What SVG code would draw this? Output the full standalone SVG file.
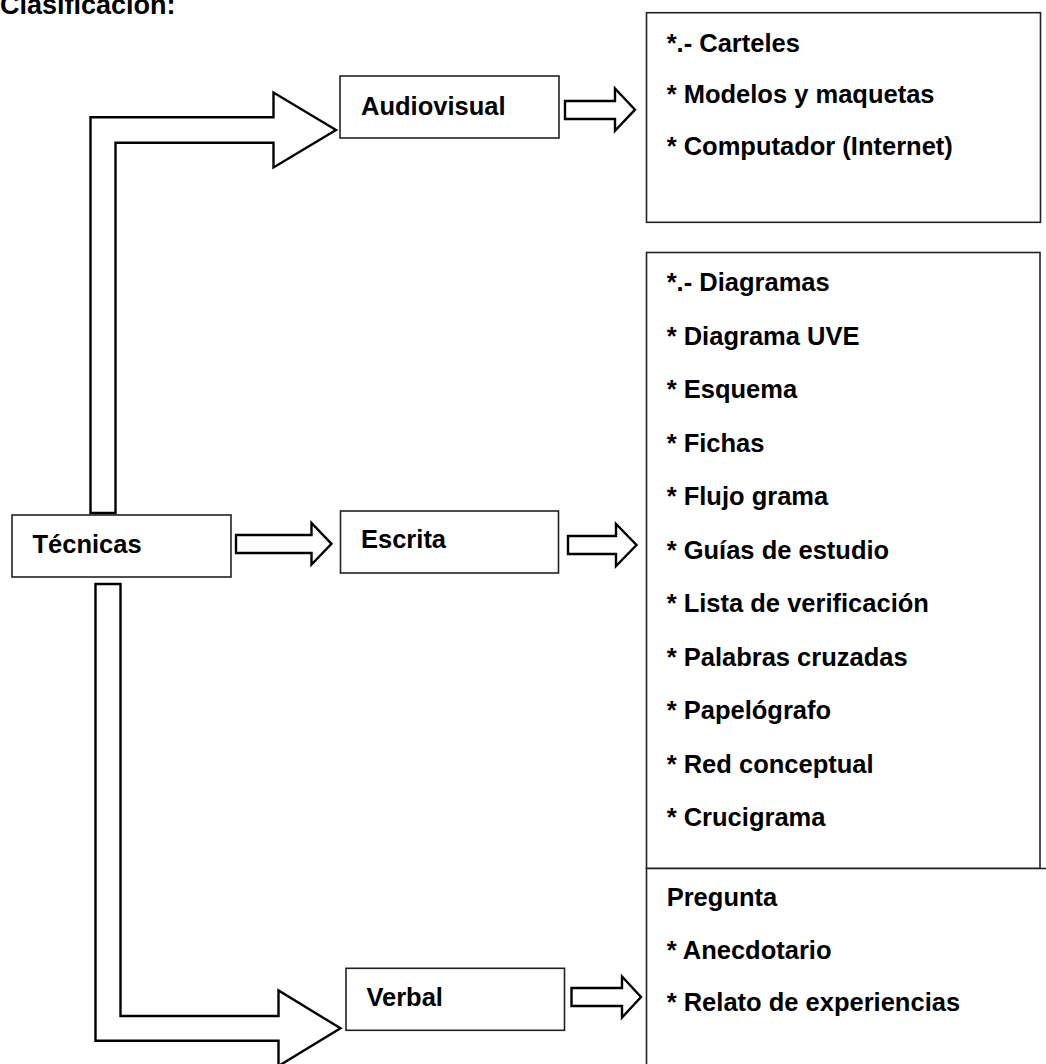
<svg xmlns="http://www.w3.org/2000/svg" width="1046" height="1064" viewBox="0 0 1046 1064">
  <style>
    .box { fill: #ffffff; stroke: #222222; stroke-width: 1.6; }
    .arrow { fill: #ffffff; stroke: #000000; stroke-width: 2.4; stroke-linejoin: miter; }
    .lbl { font-family: "Liberation Sans", Arial, sans-serif; font-weight: bold; font-size: 25.5px; fill: #000000; }
    .title { font-family: "Liberation Sans", Arial, sans-serif; font-weight: bold; font-size: 27px; fill: #000000; }
  </style>
  <rect x="0" y="0" width="1046" height="1064" fill="#ffffff"/>

  <text class="title" x="0" y="14">Clasificación:</text>

  <g id="connectors">
    <path class="arrow" d="M90.5,513 L90.5,117.3 L273.5,117.3 L273.5,92.5 L336,130 L273.5,167.5 L273.5,142.7 L115.5,142.7 L115.5,513 Z"/>
    <path class="arrow" d="M95.5,584 L120.5,584 L120.5,1016 L278.5,1016 L278.5,990.5 L340.5,1028.3 L278.5,1066 L278.5,1040.7 L95.5,1040.7 Z"/>
    <path class="arrow" d="M236,535 L311.5,535 L311.5,523 L331.5,543.8 L311.5,564.5 L311.5,553 L236,553 Z"/>
    <path class="arrow" d="M565,101 L615,101 L615,88.5 L635,109.7 L615,130.8 L615,119 L565,119 Z"/>
    <path class="arrow" d="M568,536 L616,536 L616,524 L636.5,545 L616,566 L616,554 L568,554 Z"/>
    <path class="arrow" d="M571.5,988 L622,988 L622,976.5 L641,997 L622,1017.5 L622,1006 L571.5,1006 Z"/>
  </g>

  <g id="node-tecnicas">
    <rect class="box" x="12" y="515" width="219" height="62"/>
    <text class="lbl" x="32.5" y="552.7">Técnicas</text>
  </g>

  <g id="node-audiovisual">
    <rect class="box" x="340" y="76" width="219" height="62"/>
    <text class="lbl" x="361" y="115">Audiovisual</text>
  </g>

  <g id="node-escrita">
    <rect class="box" x="340.5" y="511" width="218" height="62"/>
    <text class="lbl" x="361" y="548.3">Escrita</text>
  </g>

  <g id="node-verbal">
    <rect class="box" x="346" y="968.3" width="218.5" height="62"/>
    <text class="lbl" x="366.4" y="1006">Verbal</text>
  </g>

  <g id="list-audiovisual">
    <rect class="box" x="646.5" y="12.7" width="394" height="209.6"/>
    <text class="lbl" x="666.7" y="51.7">*.- Carteles</text>
    <text class="lbl" x="666.7" y="103.3">* Modelos y maquetas</text>
    <text class="lbl" x="666.7" y="155">* Computador (Internet)</text>
  </g>

  <g id="list-escrita">
    <rect class="box" x="646.5" y="252.5" width="393.5" height="616"/>
    <text class="lbl" x="666.7" y="291">*.- Diagramas</text>
    <text class="lbl" x="666.7" y="344.5">* Diagrama UVE</text>
    <text class="lbl" x="666.7" y="398">* Esquema</text>
    <text class="lbl" x="666.7" y="451.5">* Fichas</text>
    <text class="lbl" x="666.7" y="505">* Flujo grama</text>
    <text class="lbl" x="666.7" y="558.5">* Guías de estudio</text>
    <text class="lbl" x="666.7" y="612">* Lista de verificación</text>
    <text class="lbl" x="666.7" y="665.5">* Palabras cruzadas</text>
    <text class="lbl" x="666.7" y="719">* Papelógrafo</text>
    <text class="lbl" x="666.7" y="772.5">* Red conceptual</text>
    <text class="lbl" x="666.7" y="826">* Crucigrama</text>
  </g>

  <g id="list-verbal">
    <rect class="box" x="646.5" y="868.5" width="420" height="220"/>
    <text class="lbl" x="666.7" y="906">Pregunta</text>
    <text class="lbl" x="666.7" y="959">* Anecdotario</text>
    <text class="lbl" x="666.7" y="1011">* Relato de experiencias</text>
  </g>
</svg>
